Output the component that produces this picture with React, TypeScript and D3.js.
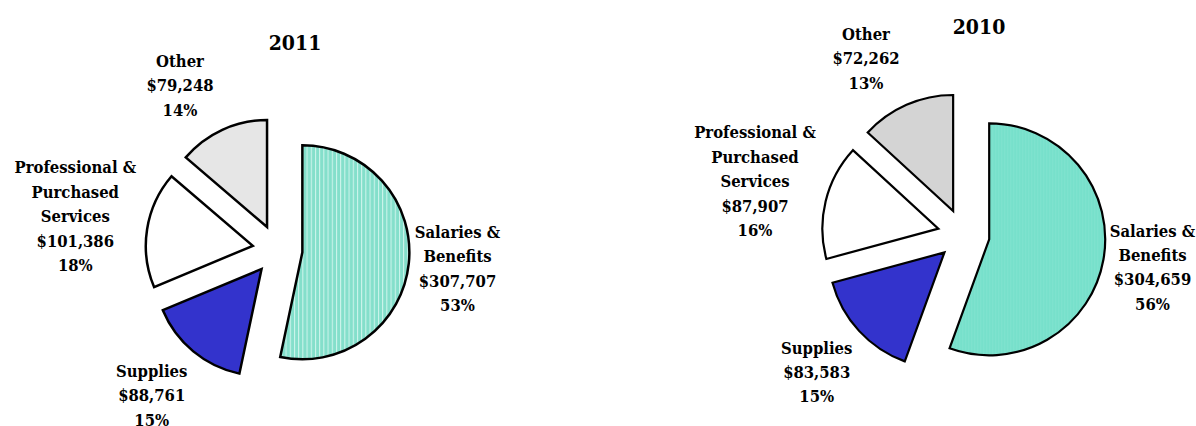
import React from "react";
import * as d3 from "d3";

const categories = ["Salaries & Benefits", "Supplies", "Professional & Purchased Services", "Other"];
const labelLines = [["Salaries &", "Benefits"], ["Supplies"], ["Professional &", "Purchased", "Services"], ["Other"]];
const values2011 = [307707, 88761, 101386, 79248];
const values2010 = [304659, 83583, 87907, 72262];
const years = ["2011", "2010"];

const W = 1196;
const H = 426;
const FONT = "'DejaVu Serif Condensed', 'DejaVu Serif', serif";

type Layout = {
  cx: number; cy: number; r: number; explode: number; stroke: number;
  title: [number, number];
  labels: [number, number][];
  fills: string[];
};

const layouts: Layout[] = [
  {
    cx: 277.5, cy: 249.7, r: 107, explode: 25, stroke: 2.5,
    title: [295, 49.5],
    labels: [[457.5, 237.7], [151.7, 376.7], [75.3, 173.3], [180, 66.7]],
    fills: ["url(#stripe2011)", "#3333CC", "#FFFFFF", "#E6E6E6"],
  },
  {
    cx: 963.6, cy: 234.8, r: 116, explode: 26, stroke: 2.2,
    title: [979, 33.5],
    labels: [[1152.5, 236.5], [816.7, 353.5], [755, 138.3], [866, 40]],
    fills: ["url(#stripe2010)", "#3333CC", "#FFFFFF", "#D4D4D4"],
  },
];

const LINE_H = 24.4;
const fmt = d3.format("$,");

function Pie({ values, layout, year }: { values: number[]; layout: Layout; year: string }) {
  const pie = d3.pie<number>().sort(null).value((d) => d).startAngle(0).endAngle(2 * Math.PI);
  const arcs = pie(values);
  const arc = d3.arc<d3.PieArcDatum<number>>().innerRadius(0).outerRadius(layout.r);
  const total = d3.sum(values);
  return (
    <g>
      <text x={layout.title[0]} y={layout.title[1]} textAnchor="middle" fontFamily={FONT} fontWeight="bold" fontSize={21} fill="#000">
        {year}
      </text>
      {arcs.map((a, i) => {
        const mid = (a.startAngle + a.endAngle) / 2;
        const dx = layout.cx + layout.explode * Math.sin(mid);
        const dy = layout.cy - layout.explode * Math.cos(mid);
        return (
          <path key={i} d={arc(a) || ""} transform={`translate(${dx},${dy})`} fill={layout.fills[i]} stroke="#000" strokeWidth={layout.stroke} strokeLinejoin="miter" />
        );
      })}
      {arcs.map((a, i) => {
        const lines = [...labelLines[i], fmt(values[i]), `${Math.round((values[i] / total) * 100)}%`];
        const [lx, ly] = layout.labels[i];
        return (
          <text key={"l" + i} textAnchor="middle" fontFamily={FONT} fontWeight="bold" fontSize={16.5} fill="#000" style={{ fontStretch: "condensed" }}>
            {lines.map((t, j) => (
              <tspan key={j} x={lx} y={ly + j * LINE_H}>{t}</tspan>
            ))}
          </text>
        );
      })}
    </g>
  );
}

export default function App() {
  return (
    <svg width={W} height={H} style={{ position: "absolute", left: 0, top: 0, background: "#fff" }}>
      <defs>
        <pattern id="stripe2011" patternUnits="userSpaceOnUse" width={4.2} height={10}>
          <rect width={4.2} height={10} fill="#84DFCB" />
          <rect x={0} width={1} height={10} fill="#D2F5EE" />
        </pattern>
        <pattern id="stripe2010" patternUnits="userSpaceOnUse" width={3} height={10}>
          <rect width={3} height={10} fill="#77E0CB" />
          <rect x={0} width={1} height={10} fill="#80E3CF" />
        </pattern>
      </defs>
      <rect width={W} height={H} fill="#fff" />
      {[values2011, values2010].map((v, i) => (
        <Pie key={i} values={v} layout={layouts[i]} year={years[i]} />
      ))}
    </svg>
  );
}
